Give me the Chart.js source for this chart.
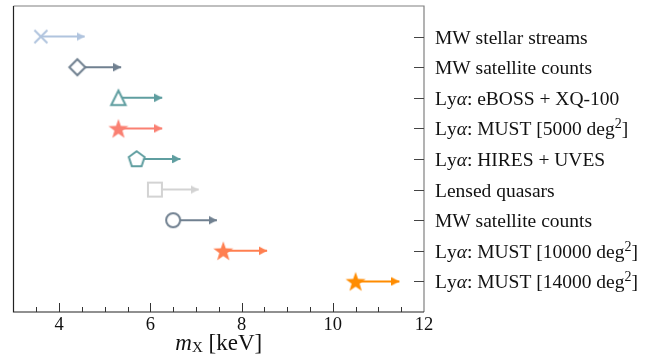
<!DOCTYPE html>
<html>
<head>
<meta charset="utf-8">
<script src="https://cdn.jsdelivr.net/npm/chart.js@4"></script>
<style>
  html, body { margin: 0; padding: 0; background: #ffffff; }
  canvas { display: block; }
</style>
</head>
<body>
<canvas id="c" width="671" height="363"></canvas>
<script>
// ---- data ----
const categories = [
  'MW stellar streams',
  'MW satellite counts',
  'Lyα: eBOSS + XQ-100',
  'Lyα: MUST [5000 deg²]',
  'Lyα: HIRES + UVES',
  'Lensed quasars',
  'MW satellite counts',
  'Lyα: MUST [10000 deg²]',
  'Lyα: MUST [14000 deg²]'
];
const lowerLimits = [3.6, 4.4, 5.3, 5.3, 5.7, 6.1, 6.5, 7.6, 10.5];
const markerTypes = ['x', 'diamond', 'triangle', 'star', 'pentagon', 'square', 'circle', 'star', 'star'];
const seriesColors = ['#b0c4de', '#708090', '#5f9ea0', '#fa8072', '#5f9ea0', '#d3d3d3', '#708090', '#ff7f50', '#ff8c00'];
const xTickValues = [4, 6, 8, 10, 12];
const xMinorStep = 0.5;
const arrowLength = 0.96;
const xTitle = { main: 'm', sub: 'X', rest: ' [keV]' };

const SERIF = '"Liberation Serif", "DejaVu Serif", "Times New Roman", serif';

// ---- marker images ----
function makeMarker(type, color) {
  const s = 26;
  const cv = document.createElement('canvas');
  cv.width = s; cv.height = s;
  const g = cv.getContext('2d');
  const c = s / 2;
  g.lineWidth = 2;
  g.strokeStyle = color;
  g.fillStyle = '#ffffff';
  g.lineJoin = 'miter';
  g.beginPath();
  if (type === 'x') {
    const r = 6.5;
    g.moveTo(c - r, c - r); g.lineTo(c + r, c + r);
    g.moveTo(c - r, c + r); g.lineTo(c + r, c - r);
    g.stroke();
    return cv;
  }
  if (type === 'diamond') {
    const r = 8;
    g.moveTo(c, c - r); g.lineTo(c + r, c); g.lineTo(c, c + r); g.lineTo(c - r, c); g.closePath();
  } else if (type === 'triangle') {
    const r = 7.2;
    g.moveTo(c, c - r); g.lineTo(c + r, c + r); g.lineTo(c - r, c + r); g.closePath();
  } else if (type === 'square') {
    const r = 7;
    g.rect(c - r, c - r, 2 * r, 2 * r);
  } else if (type === 'circle') {
    g.arc(c, c, 7, 0, Math.PI * 2);
  } else if (type === 'pentagon') {
    const r = 8.3;
    for (let k = 0; k < 5; k++) {
      const a = -Math.PI / 2 + k * 2 * Math.PI / 5;
      const px = c + r * Math.cos(a), py = c + 0.6 + r * Math.sin(a);
      if (k === 0) g.moveTo(px, py); else g.lineTo(px, py);
    }
    g.closePath();
  } else if (type === 'star') {
    const R = 10.5, ri = R * 0.4;
    const cy = c + 1;
    for (let k = 0; k < 10; k++) {
      const a = -Math.PI / 2 + k * Math.PI / 5;
      const rr = k % 2 === 0 ? R : ri;
      const px = c + rr * Math.cos(a), py = cy + rr * Math.sin(a);
      if (k === 0) g.moveTo(px, py); else g.lineTo(px, py);
    }
    g.closePath();
    g.fillStyle = color;
    g.fill();
    return cv;
  }
  g.fill();
  g.stroke();
  return cv;
}

function makeArrowHead(color) {
  const hl = 8, hw = 8.5;
  const cv = document.createElement('canvas');
  cv.width = hl * 2; cv.height = 10;
  const g = cv.getContext('2d');
  const cy = cv.height / 2;
  g.fillStyle = color;
  g.beginPath();
  g.moveTo(0, cy - hw / 2);
  g.lineTo(hl, cy);
  g.lineTo(0, cy + hw / 2);
  g.closePath();
  g.fill();
  return cv;
}

// ---- datasets ----
const datasets = [];
categories.forEach((name, i) => {
  const row = i + 1;
  const v = lowerLimits[i];
  const col = seriesColors[i];
  datasets.push({
    label: name + ' marker',
    data: [{ x: v, y: row }],
    pointStyle: makeMarker(markerTypes[i], col),
    pointRadius: 10,
    showLine: false,
    order: 0
  });
  datasets.push({
    label: name + ' limit',
    data: [{ x: v, y: row }, { x: v + arrowLength, y: row }],
    showLine: true,
    borderColor: col,
    borderWidth: 2,
    pointRadius: [0, 5],
    pointStyle: [false, makeArrowHead(col)],
    order: 1
  });
});

// ---- rich text helper ----
function drawRich(ctx, text, x, y, size) {
  let cx = x;
  for (const ch of text) {
    if (ch === '²') {
      ctx.font = Math.round(size * 0.7) + 'px ' + SERIF;
      ctx.fillText('2', cx, y - size * 0.38);
      cx += ctx.measureText('2').width;
    } else if (ch === 'α') {
      ctx.font = 'italic ' + size + 'px ' + SERIF;
      ctx.fillText(ch, cx, y);
      cx += ctx.measureText(ch).width;
    } else {
      ctx.font = size + 'px ' + SERIF;
      ctx.fillText(ch, cx, y);
      cx += ctx.measureText(ch).width;
    }
  }
}

const axesPlugin = {
  id: 'axesDecor',
  afterDraw(chart) {
    const ctx = chart.ctx;
    const a = chart.chartArea;
    const xs = chart.scales.x, ys = chart.scales.y;
    ctx.save();
    // frame
    ctx.lineWidth = 1.2;
    ctx.strokeStyle = '#808080';
    ctx.beginPath();
    ctx.moveTo(a.left, a.top); ctx.lineTo(a.right, a.top); ctx.lineTo(a.right, a.bottom);
    ctx.stroke();
    ctx.strokeStyle = '#222222';
    ctx.beginPath();
    ctx.moveTo(a.left, a.top); ctx.lineTo(a.left, a.bottom); ctx.lineTo(a.right, a.bottom);
    ctx.stroke();
    // x ticks (inward)
    ctx.strokeStyle = '#333333';
    ctx.lineWidth = 1;
    for (let v = xs.min + xMinorStep; v < xs.max - 1e-9; v += xMinorStep) {
      const px = Math.round(xs.getPixelForValue(v)) + 0.5;
      const major = xTickValues.some(t => Math.abs(t - v) < 1e-9);
      const len = major ? 9 : 5;
      ctx.beginPath(); ctx.moveTo(px, a.bottom); ctx.lineTo(px, a.bottom - len); ctx.stroke();
    }
    // x tick labels
    ctx.fillStyle = '#111111';
    ctx.font = '18.5px ' + SERIF;
    ctx.textAlign = 'center';
    ctx.textBaseline = 'alphabetic';
    xTickValues.forEach(t => {
      ctx.fillText(String(t), xs.getPixelForValue(t), a.bottom + 18);
    });
    // x title
    ctx.textAlign = 'left';
    const tSize = 23, sSize = 15;
    ctx.font = 'italic ' + tSize + 'px ' + SERIF;
    const w1 = ctx.measureText(xTitle.main).width;
    ctx.font = sSize + 'px ' + SERIF;
    const w2 = ctx.measureText(xTitle.sub).width;
    ctx.font = tSize + 'px ' + SERIF;
    const w3 = ctx.measureText(xTitle.rest).width;
    let tx = (a.left + a.right) / 2 - (w1 + w2 + w3) / 2;
    const ty = a.bottom + 38;
    ctx.font = 'italic ' + tSize + 'px ' + SERIF;
    ctx.fillText(xTitle.main, tx, ty); tx += w1;
    ctx.font = sSize + 'px ' + SERIF;
    ctx.fillText(xTitle.sub, tx, ty + 2); tx += w2;
    ctx.font = tSize + 'px ' + SERIF;
    ctx.fillText(xTitle.rest, tx, ty);
    // y ticks (inward on right) and labels
    ctx.strokeStyle = '#444444';
    categories.forEach((name, i) => {
      const py = Math.round(ys.getPixelForValue(i + 1)) + 0.5;
      ctx.beginPath(); ctx.moveTo(a.right, py); ctx.lineTo(a.right - 10, py); ctx.stroke();
      ctx.fillStyle = '#111111';
      drawRich(ctx, name, a.right + 11, py + 6.5, 19.5);
    });
    ctx.restore();
  }
};

new Chart(document.getElementById('c'), {
  type: 'scatter',
  data: { datasets },
  options: {
    responsive: false,
    animation: false,
    events: [],
    layout: { autoPadding: false, padding: { left: 13.5, right: 247, top: 6, bottom: 51 } },
    plugins: { legend: { display: false }, tooltip: { enabled: false } },
    scales: {
      x: { type: 'linear', min: 3, max: 12, display: false },
      y: { type: 'linear', min: 0, max: 10, reverse: true, display: false }
    }
  },
  plugins: [axesPlugin]
});
</script>
</body>
</html>
